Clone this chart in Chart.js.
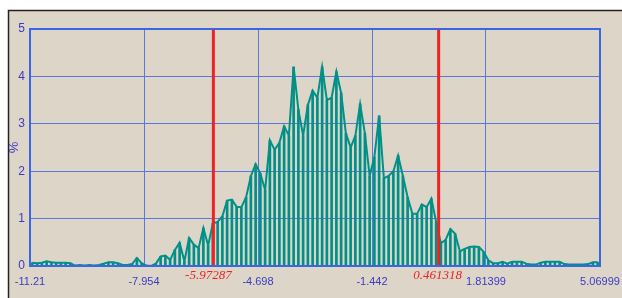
<!DOCTYPE html>
<html>
<head>
<meta charset="utf-8">
<script src="https://cdn.jsdelivr.net/npm/chart.js@4/dist/chart.umd.min.js"></script>
<style>
  html, body { margin: 0; padding: 0; background: #fff; }
  canvas { display: block; }
</style>
</head>
<body>
<canvas id="histogram-chart-canvas" width="622" height="298"></canvas>
<script>
// histogram range and bin values (%)
const binStart = -11.21;
const binEnd = 5.06999;
const percent = [
  0.07, 0.06, 0.07, 0.1, 0.08, 0.07, 0.07, 0.07, 0.06, 0.01,
  0.02, 0.01, 0.02, 0.01, 0.02, 0.05, 0.08, 0.08, 0.06, 0.02,
  0.02, 0.04, 0.17, 0.06, 0.01, 0.0, 0.05, 0.2, 0.22, 0.13,
  0.34, 0.49, 0.1, 0.59, 0.45, 0.38, 0.8, 0.43, 0.9, 0.93,
  1.05, 1.38, 1.4, 1.25, 1.24, 1.45, 1.9, 2.15, 1.95, 1.6,
  2.65, 2.45, 2.6, 2.95, 2.75, 4.2, 3.3, 2.75, 3.4, 3.7,
  3.55, 4.2, 3.5, 3.55, 4.1, 3.65, 2.8, 2.5, 2.75, 3.42,
  2.8, 1.9, 2.3, 3.17, 1.85, 1.9, 2.0, 2.33, 1.9, 1.45,
  1.1, 1.1, 1.3, 1.24, 1.42, 0.93, 0.48, 0.55, 0.78, 0.68,
  0.31, 0.36, 0.4, 0.41, 0.4, 0.3, 0.12, 0.06, 0.06, 0.09,
  0.05, 0.09, 0.09, 0.09, 0.05, 0.03, 0.03, 0.07, 0.09, 0.09,
  0.09, 0.09, 0.04, 0.03, 0.03, 0.03, 0.03, 0.04, 0.08, 0.08,
];
const xTicks = [-11.21, -7.954, -4.698, -1.442, 1.81399, 5.06999];
const xTickLabels = ['-11.21', '-7.954', '-4.698', '-1.442', '1.81399', '5.06999'];
const yTicks = [0, 1, 2, 3, 4, 5];
const markers = [-5.97287, 0.461318];
const markerLabels = ['-5.97287', '0.461318'];

const panelColor = '#ddd6c8';
const gridBlue = '#5a78dc';
const frameBlue = '#3a66e6';
const tickBlue = '#3a3ac4';
const teal = '#009088';
const red = '#ee2222';

const binWidth = (binEnd - binStart) / percent.length;
const points = percent.map((v, i) => ({ x: binStart + (i + 0.5) * binWidth, y: v }));

const panelPlugin = {
  id: 'panel',
  beforeDraw(chart) {
    const { ctx, width, height } = chart;
    ctx.save();
    ctx.fillStyle = '#fff';
    ctx.fillRect(0, 0, width, height);
    ctx.fillStyle = panelColor;
    ctx.fillRect(8, 10, width - 8, height - 10);
    ctx.strokeStyle = '#222';
    ctx.lineWidth = 1.5;
    ctx.beginPath();
    ctx.moveTo(8.5, height);
    ctx.lineTo(8.5, 10.5);
    ctx.lineTo(width, 10.5);
    ctx.stroke();
    ctx.restore();
  },
  afterDatasetsDraw(chart) {
    const { ctx, chartArea: a, scales: { x } } = chart;
    ctx.save();
    // confidence markers
    markers.forEach((m, i) => {
      const px = x.getPixelForValue(m);
      ctx.strokeStyle = red;
      ctx.lineWidth = 3;
      ctx.beginPath();
      ctx.moveTo(px, a.top);
      ctx.lineTo(px, a.bottom);
      ctx.stroke();
      ctx.fillStyle = red;
      ctx.font = 'italic 13px "Liberation Serif"';
      ctx.textAlign = 'center';
      ctx.textBaseline = 'middle';
      ctx.fillText(markerLabels[i], px - (i === 0 ? 5 : 1), a.bottom + 10);
    });
    // plot frame
    ctx.strokeStyle = frameBlue;
    ctx.lineWidth = 2;
    ctx.strokeRect(a.left, a.top, a.right - a.left, a.bottom - a.top);
    ctx.restore();
  },
};

const ctx = document.getElementById('histogram-chart-canvas').getContext('2d');

window.histogramChart = new Chart(ctx, {
  data: {
    datasets: [
      {
        type: 'line',
        data: points,
        borderColor: teal,
        borderWidth: 2,
        pointRadius: 0,
        tension: 0,
        order: 0,
      },
      {
        type: 'bar',
        data: points,
        backgroundColor: teal,
        barThickness: 2,
        order: 1,
      },
    ],
  },
  options: {
    responsive: false,
    animation: false,
    layout: {
      padding: { top: 29, right: 22, left: 0, bottom: 0 },
    },
    plugins: {
      legend: { display: false },
      tooltip: { enabled: false },
    },
    scales: {
      x: {
        type: 'linear',
        min: binStart,
        max: binEnd,
        offset: false,
        afterBuildTicks: (s) => { s.ticks = xTicks.map((v) => ({ value: v })); },
        afterFit: (s) => {
          s.height = 32;
          s.paddingLeft = 0;
          s.paddingRight = 0;
        },
        ticks: {
          autoSkip: false,
          maxRotation: 0,
          color: tickBlue,
          font: { family: '"Liberation Sans"', size: 11 },
          padding: 9,
          callback: (v, i) => xTickLabels[i],
        },
        grid: { color: gridBlue, lineWidth: 1, drawTicks: false, offset: false },
        border: { display: false },
      },
      y: {
        min: 0,
        max: 5,
        afterBuildTicks: (s) => { s.ticks = yTicks.map((v) => ({ value: v })); },
        afterFit: (s) => { s.width = 30; },
        ticks: {
          color: tickBlue,
          font: { family: '"Liberation Sans"', size: 12 },
          padding: 5,
        },
        grid: { color: gridBlue, lineWidth: 1, drawTicks: false },
        border: { display: false },
        title: {
          display: true,
          text: '%',
          color: tickBlue,
          font: { family: '"Liberation Sans"', size: 13 },
          padding: { top: 7, bottom: 0 },
        },
      },
    },
  },
  plugins: [panelPlugin],
});
</script>
</body>
</html>
